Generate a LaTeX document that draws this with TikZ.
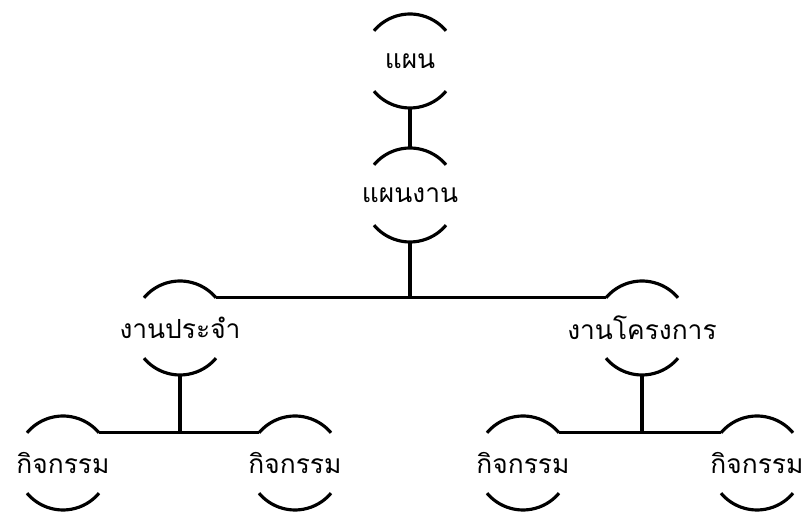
\documentclass[tikz,border=0pt]{standalone}
\usepackage{fontspec}
\newfontfamily\thaifont[Script=Thai]{Loma}
\newcommand\rad{0.94cm}
\tikzset{item/.style={inner sep=0pt, font=\thaifont\fontsize{15}{18}\selectfont}}
\begin{document}
\begin{tikzpicture}[x=0.02cm, y=0.02cm, line width=1.8pt]
\useasboundingbox (0,0) rectangle (802,513);

\node[item] (plan) at (410,452) {แผน};
\node[item] (plangan) at (410,318) {แผนงาน};
\node[item] (routine) at (180,185) {งานประจำ};
\node[item] (project) at (642,185) {งานโครงการ};
\node[item] (actA) at (63,50) {กิจกรรม};
\node[item] (actB) at (295,50) {กิจกรรม};
\node[item] (actC) at (523,50) {กิจกรรม};
\node[item] (actD) at (757,50) {กิจกรรม};

\foreach \n in {plan,plangan,routine,project,actA,actB,actC,actD}
{
    \draw ([shift={(140:\rad)}]\n.center) arc[start angle=140, end angle=40, radius=\rad];
    \draw ([shift={(220:\rad)}]\n.center) arc[start angle=220, end angle=320, radius=\rad];
    \coordinate (\n-t) at ([yshift=\rad]\n.center);
    \coordinate (\n-b) at ([yshift=-\rad]\n.center);
    \coordinate (\n-ne) at ([shift={(40:\rad)}]\n.center);
    \coordinate (\n-nw) at ([shift={(140:\rad)}]\n.center);
}

\draw (plan-b)--(plangan-t);
\draw (plangan-b)--(plangan-b |- routine-ne);
\draw (routine-ne)--(project-nw);

\draw (routine-b)--(routine-b |- actA-ne);
\draw (actA-ne)--(actB-nw);
\draw (project-b)--(project-b |- actC-ne);
\draw (actC-ne)--(actD-nw);

\end{tikzpicture}
\end{document}
